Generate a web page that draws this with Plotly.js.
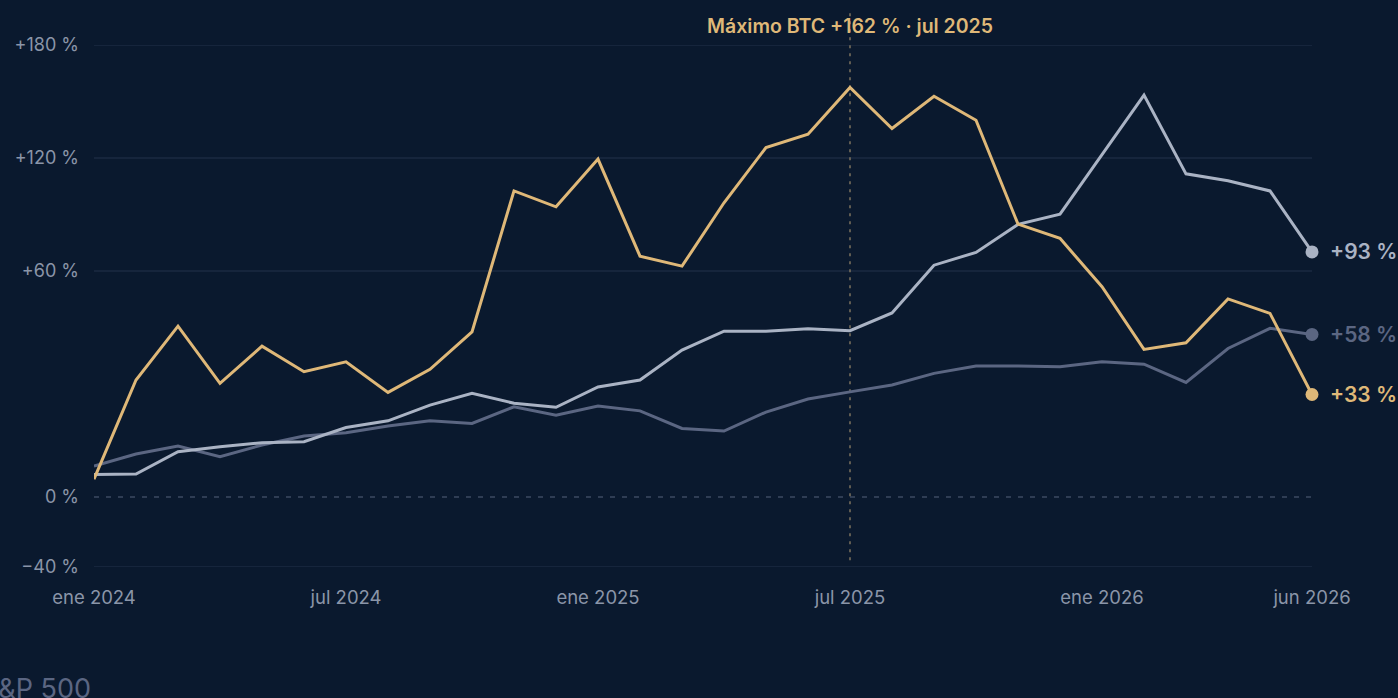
<!DOCTYPE html>
<html>
<head>
<meta charset="utf-8">
<script src="https://cdn.plot.ly/plotly-3.0.1.min.js"></script>
<style>
  html, body { margin: 0; padding: 0; background: #0a192e; overflow: hidden; }
  #chart { width: 1398px; height: 698px; }
</style>
</head>
<body>
<div id="chart"></div>
<script>
// ---- data ----
const months = [
  "ene 2024","feb 2024","mar 2024","abr 2024","may 2024","jun 2024",
  "jul 2024","ago 2024","sep 2024","oct 2024","nov 2024","dic 2024",
  "ene 2025","feb 2025","mar 2025","abr 2025","may 2025","jun 2025",
  "jul 2025","ago 2025","sep 2025","oct 2025","nov 2025","dic 2025",
  "ene 2026","feb 2026","mar 2026","abr 2026","may 2026","jun 2026"
];
const btc = [-3.0, 38.8, 61.5, 37.4, 53.1, 42.3, 46.5, 33.6, 43.3, 59.1, 118.5, 111.8,
             131.9, 91.0, 86.8, 113.5, 136.8, 142.4, 162.1, 144.8, 158.4, 148.3, 104.5, 98.5,
             78.1, 51.7, 54.5, 73.0, 66.9, 32.7];
const oro = [-1.0, -0.8, 8.6, 10.7, 12.4, 12.8, 18.8, 21.6, 28.2, 33.2, 29.0, 27.3,
             35.9, 38.8, 51.4, 59.4, 59.4, 60.4, 59.6, 67.1, 87.2, 92.6, 104.4, 108.7,
             133.8, 158.9, 125.7, 122.8, 118.5, 92.8];
const sp500 = [2.5, 7.6, 11.0, 6.5, 11.4, 15.2, 16.6, 19.4, 21.6, 20.5, 27.5, 24.0,
               27.8, 25.8, 18.4, 17.3, 25.3, 30.8, 33.8, 36.7, 41.6, 44.7, 44.7, 44.4,
               46.5, 45.5, 37.8, 52.1, 60.6, 58.0];
const xTickLabels = ["ene 2024","jul 2024","ene 2025","jul 2025","ene 2026","jun 2026"];
const yTickText = ["−40 %", "0 %", "+60 %", "+120 %", "+180 %"];
const yTickVals = [-40, -10.5, 84.7, 132.4, 180];
const peakLabel = "jul 2025";

// ---- styles ----
const BG = "#0a192e";
const GOLD = "#dfb878";
const LIGHT = "#aab3c4";
const DARK = "#5b6682";
const TICK = "#8a95a8";
const GRID = "#1b2a42";
const FONT = "Inter, 'Noto Sans', sans-serif";

const last = months.length - 1;
const series = [
  {name: "S&P 500", y: sp500, color: DARK, width: 3},
  {name: "Oro", y: oro, color: LIGHT, width: 3},
  {name: "BTC", y: btc, color: GOLD, width: 3}
];

const traces = [];
series.forEach(s => {
  traces.push({
    type: "scatter", mode: "lines", x: months, y: s.y, name: s.name,
    line: {color: s.color, width: s.width, shape: "linear"},
    hoverinfo: "skip", showlegend: false
  });
});
series.forEach(s => {
  traces.push({
    type: "scatter", mode: "markers", x: [months[last]], y: [s.y[last]],
    marker: {color: s.color, size: 13}, hoverinfo: "skip", showlegend: false,
    cliponaxis: false
  });
});

const fmt = v => (v >= 0 ? "+" : "−") + Math.abs(Math.round(v)) + " %";

const annotations = series.map(s => ({
  x: months[last], y: s.y[last], xref: "x", yref: "y",
  text: fmt(s.y[last]), showarrow: false, xanchor: "left", yanchor: "middle",
  xshift: 16, font: {family: FONT, size: 21, color: s.color, weight: 600}
}));

const peakIdx = months.indexOf(peakLabel);
const peakVal = Math.max(...btc);
annotations.push({
  x: peakIdx, y: 1.036, xref: "x", yref: "paper",
  text: "Máximo BTC " + fmt(peakVal) + " · " + peakLabel,
  showarrow: false, xanchor: "center", yanchor: "middle",
  font: {family: FONT, size: 19.5, color: GOLD, weight: 600}
});
annotations.push({
  x: -0.0942, y: -0.232, xref: "paper", yref: "paper",
  text: "S&P 500", showarrow: false, xanchor: "left", yanchor: "middle",
  font: {family: FONT, size: 27, color: DARK}
});

const shapes = [];
yTickVals.forEach((v, i) => {
  const dashed = yTickText[i] === "0 %";
  shapes.push({
    type: "line", xref: "paper", yref: "y", x0: 0, x1: 1, y0: v, y1: v,
    layer: "below",
    line: {color: dashed ? "#3c4a62" : GRID, width: 1.5, dash: dashed ? "5px,7px" : "solid"}
  });
});
shapes.push({
  type: "line", xref: "x", yref: "paper", x0: peakIdx, x1: peakIdx, y0: 0.013, y1: 1.067,
  layer: "below", line: {color: "#7d735f", width: 1.5, dash: "3px,5px"}
});

const layout = {
  width: 1398, height: 698,
  margin: {l: 94, r: 86, t: 45, b: 131, pad: 0},
  paper_bgcolor: BG, plot_bgcolor: BG,
  font: {family: FONT, color: TICK},
  showlegend: false,
  xaxis: {
    type: "category", range: [0, last], showgrid: false, zeroline: false, showline: false,
    tickmode: "array", tickvals: xTickLabels, ticktext: xTickLabels, ticks: "",
    tickfont: {family: FONT, size: 18.5, color: TICK}, ticklabelstandoff: 17, fixedrange: true
  },
  yaxis: {
    range: [-40, 180], showgrid: false, zeroline: false, showline: false,
    tickmode: "array", tickvals: yTickVals, ticktext: yTickText, ticks: "",
    tickfont: {family: FONT, size: 18, color: TICK}, ticklabelstandoff: 14, fixedrange: true
  },
  shapes: shapes,
  annotations: annotations
};

Plotly.newPlot("chart", traces, layout, {displayModeBar: false, staticPlot: true});
</script>
</body>
</html>
